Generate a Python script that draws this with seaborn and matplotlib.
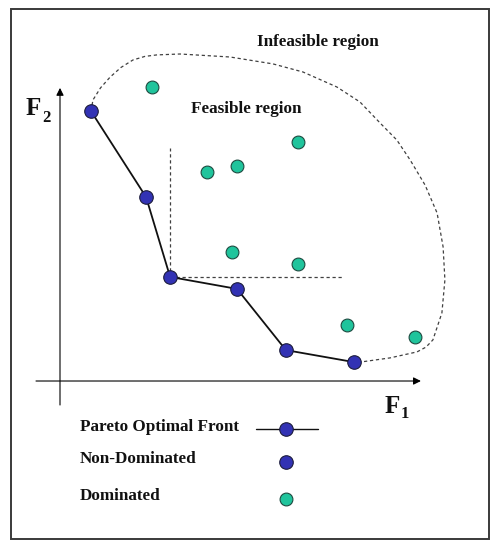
import matplotlib
import numpy as np
import pandas as pd
import seaborn as sns

matplotlib.use("Agg")
import matplotlib.pyplot as plt
from matplotlib.patches import Rectangle

# Objective values (F1, F2), arbitrary units
PARETO_F1 = [1.03, 2.87, 3.67, 5.90, 7.53, 9.80]
PARETO_F2 = [9.00, 6.13, 3.47, 3.07, 1.03, 0.63]

DOMINATED_F1 = [3.07, 7.93, 4.90, 5.90, 5.73, 7.93, 9.57, 11.83]
DOMINATED_F2 = [9.80, 7.97, 6.97, 7.17, 4.30, 3.90, 1.87, 1.47]

# Outline of the feasible region (traced point by point)
BOUND_F1 = [1.03, 1.10, 1.35, 1.67, 2.03, 2.43, 2.83, 3.23, 4.00, 5.67, 7.10,
            8.10, 9.23, 10.00, 10.67, 11.23, 11.67, 12.17, 12.57, 12.77, 12.83,
            12.73, 12.43, 12.20, 11.90, 11.00, 10.00, 9.80]
BOUND_F2 = [9.00, 9.37, 9.77, 10.13, 10.45, 10.70, 10.82, 10.87, 10.90, 10.80,
            10.57, 10.30, 9.80, 9.30, 8.60, 8.03, 7.37, 6.53, 5.60, 4.47, 3.37,
            2.27, 1.37, 1.13, 0.97, 0.77, 0.63, 0.63]

# dominance cone drawn from the knee point
KNEE_INDEX = 2
CONE_F2_TOP = 7.77
CONE_F1_RIGHT = 9.43

LEGEND_LABELS = ["Pareto Optimal Front", "Non-Dominated", "Dominated"]

BLUE = "#3232b4"
GREEN = "#20c49c"
EDGE = "#1c1c3c"
SERIF = "Liberation Serif"

sns.set_theme(style="white")
plt.rcParams["font.family"] = [SERIF, "DejaVu Serif"]

pareto = pd.DataFrame({"F1": PARETO_F1, "F2": PARETO_F2})
dominated = pd.DataFrame({"F1": DOMINATED_F1, "F2": DOMINATED_F2})
bound = pd.DataFrame({"F1": BOUND_F1, "F2": BOUND_F2})

fig = plt.figure(figsize=(5.01, 5.5), dpi=100)
ax = fig.add_axes([0, 0, 1, 1])

# outer frame
fig.patches.append(Rectangle((11 / 501, 11 / 550), 478 / 501, 530 / 550,
                             transform=fig.transFigure, fill=False,
                             edgecolor="#3a3a3a", linewidth=1.4))

# axes arrows
arrow = dict(arrowstyle="-|>", color="black", lw=0.8, mutation_scale=11,
             shrinkA=0, shrinkB=0)
ax.annotate("", xy=(12.03, 0), xytext=(-0.8, 0), arrowprops=arrow)
ax.annotate("", xy=(0, 9.77), xytext=(0, -0.8), arrowprops=arrow)

dash = (0, (2.6, 2.2))
sns.lineplot(data=bound, x="F1", y="F2", sort=False, estimator=None,
             color="#404040", lw=0.9, linestyle=dash, ax=ax)

knee_x, knee_y = PARETO_F1[KNEE_INDEX], PARETO_F2[KNEE_INDEX]
ax.plot([knee_x, knee_x], [knee_y, CONE_F2_TOP], color="#404040", lw=0.9, linestyle=dash)
ax.plot([knee_x, CONE_F1_RIGHT], [knee_y, knee_y], color="#404040", lw=0.9, linestyle=dash)

sns.lineplot(data=pareto, x="F1", y="F2", sort=False, estimator=None,
             color="#111111", lw=1.3, ax=ax)
sns.scatterplot(data=pareto, x="F1", y="F2", s=95, color=BLUE, edgecolor=EDGE,
                linewidth=0.8, zorder=5, ax=ax)
sns.scatterplot(data=dominated, x="F1", y="F2", s=85, color=GREEN, edgecolor="#1e4a40",
                linewidth=0.8, zorder=5, ax=ax)

ax.set_xlim(-2.0, 14.7)
ax.set_ylim(-5.633, 12.7)
ax.axis("off")

txt = dict(fontweight="bold", fontsize=12.3, color="#111111")
ax.text(8.6, 11.3, "Infeasible region", ha="center", va="center", **txt)
ax.text(6.2, 9.07, "Feasible region", ha="center", va="center", **txt)

# axis names with subscripts
big = dict(fontweight="bold", fontsize=18, color="#111111", va="baseline")
sub = dict(fontweight="bold", fontsize=12, color="#111111", va="baseline")
ax.text(-1.14, 8.87, "F", ha="left", **big)
ax.text(-0.58, 8.63, "2", ha="left", **sub)
ax.text(10.81, -1.07, "F", ha="left", **big)
ax.text(11.36, -1.23, "1", ha="left", **sub)

# hand-made legend: labels on the left, keys in a column on the right
legend_y = [-1.53, -2.6, -3.83]
key_x = 7.53
for label, y in zip(LEGEND_LABELS, legend_y):
    ax.text(0.67, y, label, ha="left", va="center", **txt)
ax.plot([6.53, 8.6], [legend_y[0] - 0.07] * 2, color="#111111", lw=1.0)
ax.scatter([key_x, key_x], [legend_y[0] - 0.07, legend_y[1] - 0.1], s=95,
           color=BLUE, edgecolor=EDGE, linewidth=0.8, zorder=5)
ax.scatter([key_x], [legend_y[2] - 0.1], s=85, color=GREEN, edgecolor="#1e4a40",
           linewidth=0.8, zorder=5)

fig.savefig("out.png", dpi=100)
